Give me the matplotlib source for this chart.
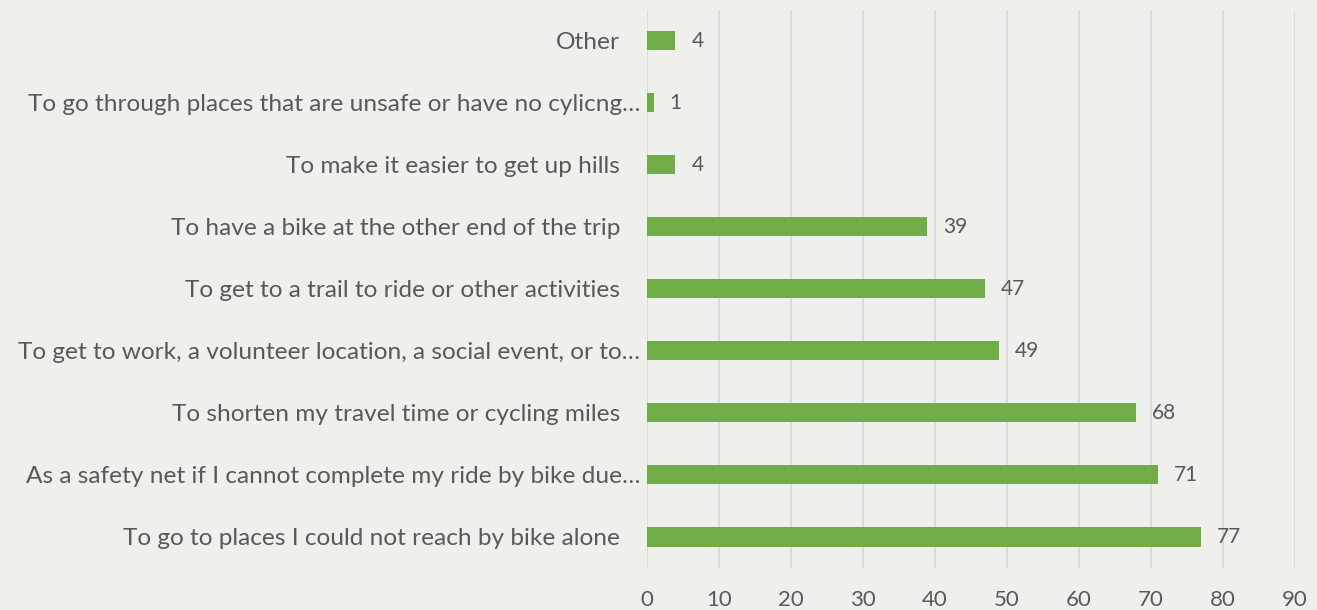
import matplotlib.pyplot as plt
import matplotlib.transforms as mtrans

categories = [
    "To go to places I could not reach by bike alone",
    "As a safety net if I cannot complete my ride by bike due\u2026",
    "To shorten my travel time or cycling miles",
    "To get to work, a volunteer location, a social event, or to\u2026",
    "To get to a trail to ride or other activities",
    "To have a bike at the other end of the trip",
    "To make it easier to get up hills",
    "To go through places that are unsafe or have no cylicng\u2026",
    "Other",
]
values = [77, 71, 68, 49, 47, 39, 4, 1, 4]
ticks = [0, 10, 20, 30, 40, 50, 60, 70, 80, 90]

bg = "#EFEFEB"
text_col = "#595959"
plt.rcParams['font.family'] = ['Lato', 'DejaVu Sans']

fig = plt.figure(figsize=(13.17, 6.10), dpi=100, facecolor=bg)
ax = fig.add_axes([0.491, 0.069, 0.492, 0.915], facecolor=bg)

y = range(len(categories))
ax.barh(y, values, height=0.31, color="#70AD47", zorder=3)
for i, v in enumerate(values):
    ax.text(v + 2.2, i, str(v), va="center", ha="left", fontsize=15, color=text_col)

ax.set_xlim(0, 90)
ax.set_ylim(-0.5, len(categories) - 0.5)
ax.set_xticks(ticks)
ax.set_yticks(list(y))
ax.set_yticklabels(categories)
ax.tick_params(axis="y", length=0, pad=19, labelsize=17.6, labelcolor=text_col)
ax.tick_params(axis="x", length=0, pad=16, labelsize=16, labelcolor=text_col)
ax.xaxis.grid(True, color="#D9D9D9", linewidth=1.2, zorder=0)
for s in ax.spines.values():
    s.set_visible(False)

# truncated labels sit closer to the axis, like in the original
shift = mtrans.ScaledTranslation(0.2, 0, fig.dpi_scale_trans)
for lab in ax.get_yticklabels():
    if lab.get_text().endswith("\u2026"):
        lab.set_transform(lab.get_transform() + shift)

fig.savefig("out.png", dpi=100, facecolor=bg)
